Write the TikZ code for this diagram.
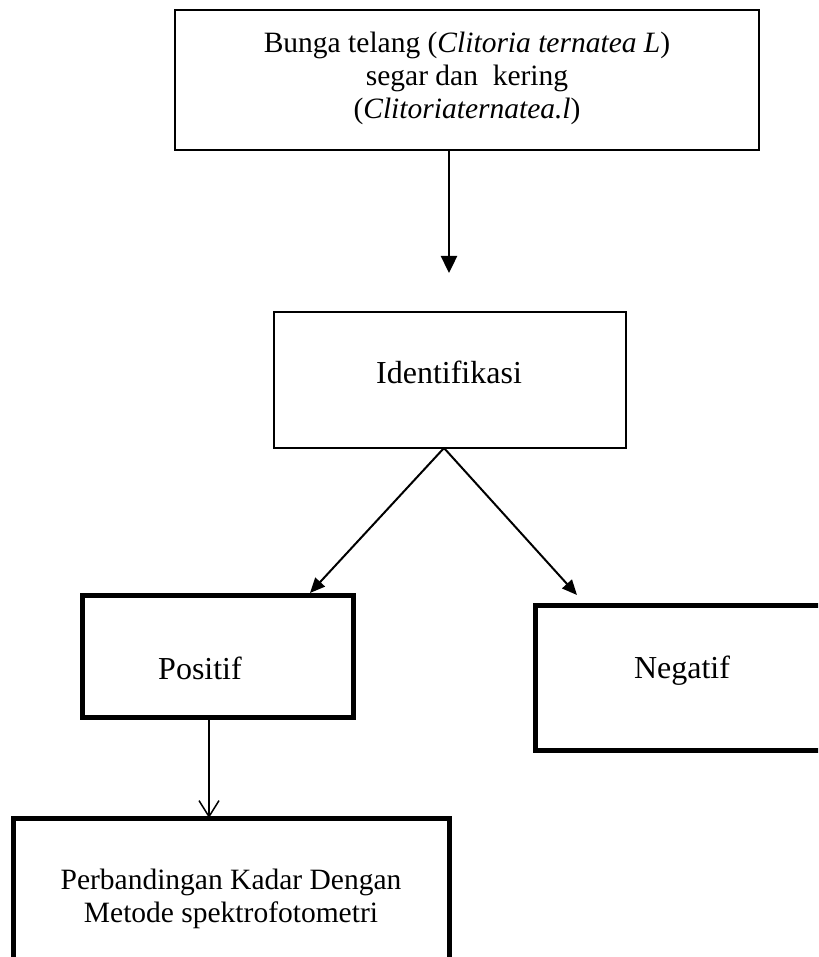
\documentclass[tikz,border=0pt]{standalone}
\usepackage{fontspec}
\setmainfont{Liberation Serif}
\usetikzlibrary{arrows.meta}
\begin{document}
\begin{tikzpicture}[x=1pt,y=-1pt,
  thinbox/.style={draw, line width=2.2pt, inner sep=0pt, outer sep=0pt},
  thickbox/.style={draw, line width=5pt, inner sep=0pt, outer sep=0pt},
  biglbl/.style={inner sep=0pt, outer sep=0pt, anchor=base, font=\fontsize{32}{38}\selectfont},
  smalllbl/.style={inner sep=0pt, outer sep=0pt, align=center, anchor=north, font=\fontsize{29.5}{33}\selectfont},
  toparrow/.style={line width=2.4pt, -{Triangle[length=17pt,width=16pt]}},
  forkarrow/.style={line width=2pt, -{Triangle[length=15pt,width=13pt]}},
  openarrow/.style={line width=1.5pt, -{Straight Barb[length=16pt,width=20pt]}}]
\useasboundingbox (0,0) rectangle (818,957);
\clip (0,0) rectangle (818,957);
\fill[white] (0,0) rectangle (818,957);

% boxes
\node[thinbox, minimum width=584pt, minimum height=140pt] (src) at (467,80) {};
\node[thinbox, minimum width=352pt, minimum height=136pt] (ident) at (450,380) {};
\node[thickbox, minimum width=271pt, minimum height=122pt] (pos) at (217.5,656) {};
\node[thickbox, minimum width=365pt, minimum height=145pt] (neg) at (717.5,677.5) {};
\node[thickbox, minimum width=436pt, minimum height=242pt] (bot) at (231,939) {};

% texts
\node[smalllbl] (srctxt) at (467,32) {Bunga telang (\textit{Clitoria ternatea L})\\segar dan\ \ kering\\(\textit{Clitoriaternatea.l})};
\node[biglbl] (identtxt) at (449,383) {Identifikasi};
\node[biglbl] (postxt) at (200,679) {Positif};
\node[biglbl] (negtxt) at (682,678) {Negatif};
\node[smalllbl] (bottxt) at (231,869) {Perbandingan Kadar Dengan\\Metode spektrofotometri};

% connectors
\coordinate (a1) at (449,273);
\draw[toparrow] (src.south -| a1) -- (a1);
\coordinate (fk) at (444,448);
\coordinate (tl) at (310,593);
\coordinate (tr) at (577,595);
\draw[forkarrow] (ident.south -| fk) -- (tl);
\draw[forkarrow] (ident.south -| fk) -- (tr);
\coordinate (b1) at (209,0);
\draw[openarrow] (pos.south -| b1) -- (bot.north -| b1);
\end{tikzpicture}
\end{document}
